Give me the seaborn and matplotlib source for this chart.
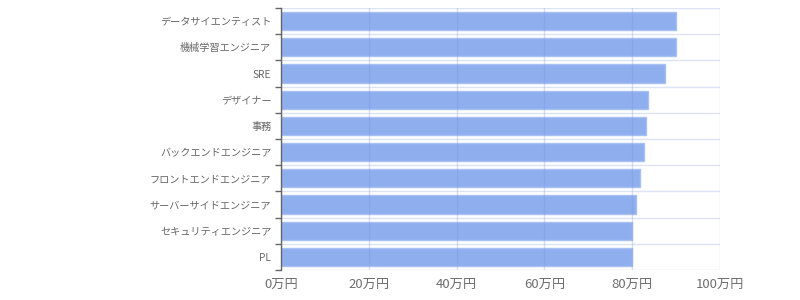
import matplotlib
matplotlib.use("Agg")
import matplotlib.pyplot as plt
import seaborn as sns
import pandas as pd
import numpy as np

categories = ["データサイエンティスト", "機械学習エンジニア", "SRE", "デザイナー", "事務",
              "バックエンドエンジニア", "フロントエンドエンジニア", "サーバーサイドエンジニア",
              "セキュリティエンジニア", "PL"]
salaries = [90.0, 90.0, 87.5, 83.7, 83.2, 82.6, 81.7, 80.9, 80.0, 80.0]
x_ticks = [0, 20, 40, 60, 80, 100]
x_tick_labels = ["0万円", "20万円", "40万円", "60万円", "80万円", "100万円"]

sns.set_theme(style="white")
plt.rcParams['font.family'] = ['Noto Sans CJK JP', 'DejaVu Sans']

df = pd.DataFrame({"職種": categories, "年収": salaries})

fig = plt.figure(figsize=(8, 3), dpi=100)
ax = fig.add_axes([281/800, 30/300, (720-281)/800, (270-8)/300])

sns.barplot(data=df, y="職種", x="年収", orient="h", ax=ax, color="#8eaeee",
            saturation=1, width=0.69, edgecolor="#a9c0f2", linewidth=1)

n = len(categories)
ax.set_xlim(0, 100)
ax.set_ylim(n - 0.5, -0.5)
ax.set_xticks(x_ticks)
ax.set_xticklabels(x_tick_labels, fontsize=9.5, color="#6e6e6e")
ax.set_yticks(range(n))
ax.set_yticklabels(categories, fontsize=7.3, color="#666666")
ax.set_yticks(np.arange(-0.5, n, 1.0), minor=True)
ax.tick_params(axis="y", which="major", left=False, length=0, pad=7)
ax.tick_params(axis="y", which="minor", left=True, length=4, width=1, color="#666666", direction="out")
ax.tick_params(axis="x", which="major", length=0, pad=6)
ax.set_xlabel("")
ax.set_ylabel("")

ax.set_axisbelow(False)
ax.xaxis.grid(True, which="major", color="#7a90d6", alpha=0.28, linewidth=1)
ax.yaxis.grid(True, which="minor", color="#7a90d6", alpha=0.25, linewidth=1)
ax.yaxis.grid(False, which="major")

for s in ["top", "right", "bottom"]:
    ax.spines[s].set_visible(False)
ax.spines["left"].set_color("#666666")
ax.spines["left"].set_linewidth(1)
ax.spines["left"].set_zorder(5)

fig.savefig("out.png", dpi=100)
